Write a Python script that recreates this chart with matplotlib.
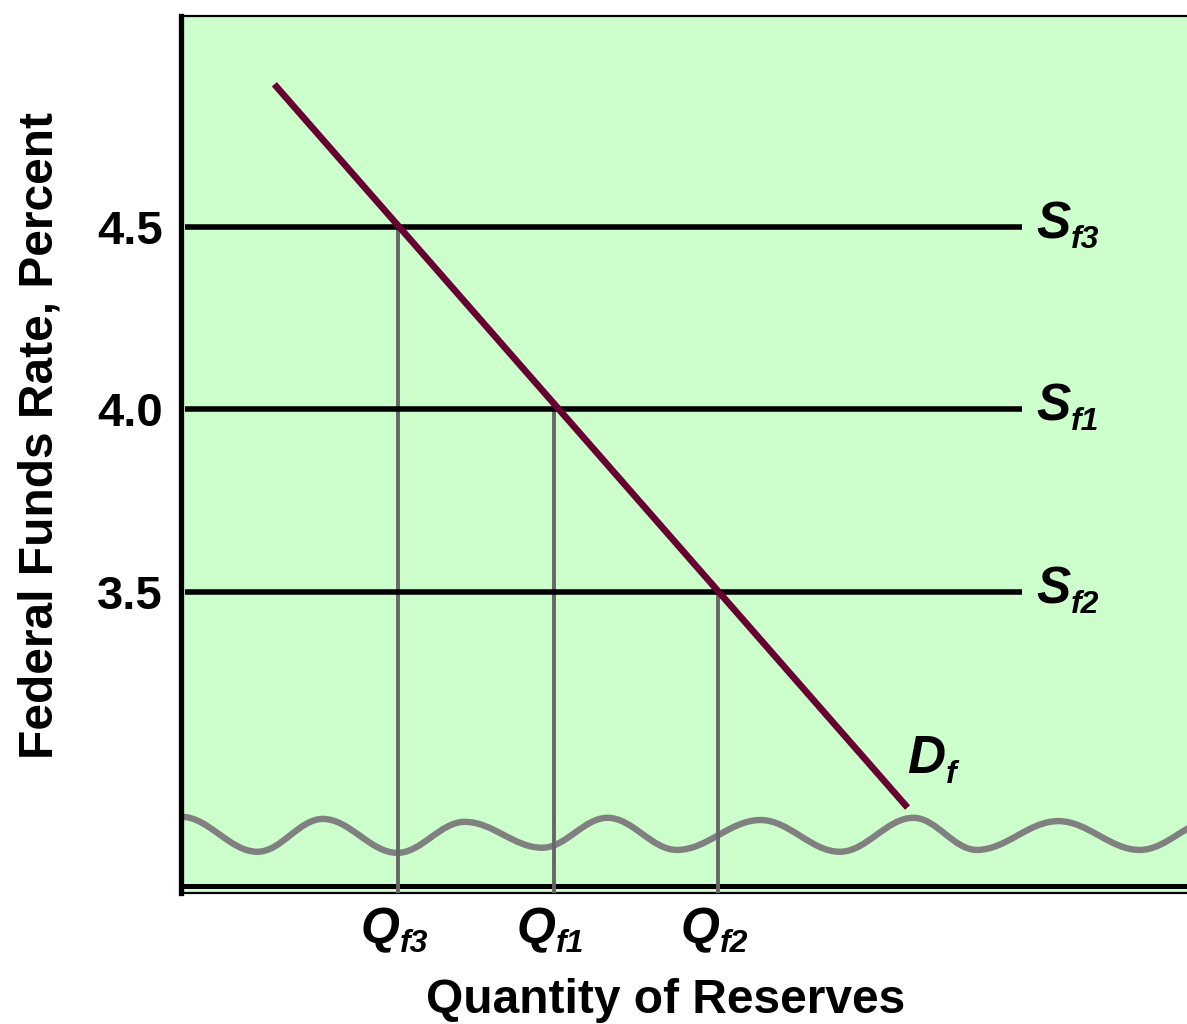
import matplotlib

matplotlib.use("Agg")

import matplotlib.pyplot as plt
from matplotlib.path import Path
from matplotlib.patches import PathPatch

plt.rcParams["font.family"] = ["Liberation Sans", "DejaVu Sans"]

# --- data -------------------------------------------------------------
rates = [4.5, 4.0, 3.5]                 # federal funds rate, percent
supply_subs = ["f3", "f1", "f2"]        # S_f labels for each rate
quantities = [21.6, 37.1, 53.4]         # Q_f3, Q_f1, Q_f2
quantity_subs = ["f3", "f1", "f2"]
supply_end = 83.6                        # supply lines run from 0 to here

demand_x = [9.5, 72.0]
demand_y = [4.884, 2.916]

# axis-break wave: alternating peaks/troughs (x, rate)
wave_x = [0.0, 7.6, 14.1, 21.5, 28.2, 35.9, 42.4, 49.3, 57.6, 65.5,
          72.8, 79.1, 87.2, 95.3, 102.8]
wave_y = [2.884, 2.788, 2.878, 2.785, 2.870, 2.799, 2.881, 2.793, 2.875,
          2.788, 2.881, 2.793, 2.872, 2.793, 2.876]

xlim = (0.0, 100.0)
ylim = (2.675, 5.078)

# --- figure -----------------------------------------------------------
W, H = 1187, 1024
fig = plt.figure(figsize=(W / 100, H / 100), dpi=100)
ax = fig.add_axes([181 / W, (H - 893) / H, 1 - 181 / W, (893 - 16) / H])
ax.set_facecolor("#CCFFCC")
ax.set_xlim(*xlim)
ax.set_ylim(*ylim)

ax.spines["right"].set_visible(False)
ax.spines["left"].set_linewidth(3.8)
ax.spines["top"].set_linewidth(1.6)
ax.spines["bottom"].set_linewidth(1.6)
# thick inner bottom rule (double line look)
ax.plot([0, 1], [0.0085, 0.0085], transform=ax.transAxes, color="black",
        lw=3.6, solid_capstyle="butt", clip_on=False)

ax.set_xticks([])
ax.set_yticks(rates)
ax.set_yticklabels([f"{r:.1f}" for r in rates], fontsize=34, fontweight="bold")
ax.tick_params(axis="y", length=0, pad=13)

# wave as smooth bezier through extrema (horizontal tangents)
verts = [(wave_x[0], wave_y[0])]
codes = [Path.MOVETO]
for i in range(1, len(wave_x)):
    x0, y0 = wave_x[i - 1], wave_y[i - 1]
    x1, y1 = wave_x[i], wave_y[i]
    dx = x1 - x0
    verts += [(x0 + 0.364 * dx, y0), (x1 - 0.364 * dx, y1), (x1, y1)]
    codes += [Path.CURVE4] * 3
ax.add_patch(PathPatch(Path(verts, codes), facecolor="none",
                       edgecolor="#808080", lw=4.6, zorder=2))

# vertical drop lines to the quantity axis
for q, r in zip(quantities, rates):
    ax.plot([q, q], [ylim[0], r], color="#666666", lw=2.8, zorder=3)

# supply lines
for r in rates:
    ax.plot([0.4, supply_end], [r, r], color="black", lw=4.0,
            solid_capstyle="butt", zorder=4)

# demand line
ax.plot(demand_x, demand_y, color="#660033", lw=4.8, zorder=5)

lab = dict(fontweight="bold", style="italic", color="black")


def sub_label(xy, main, sub, size, sub_size, offset, ha="left",
              coords="data"):
    t = ax.annotate(main, xy=xy, xycoords=coords, xytext=offset,
                    textcoords="offset points", fontsize=size, ha=ha,
                    va="baseline", annotation_clip=False, **lab)
    ax.annotate(sub, xy=(1, 0), xycoords=t, xytext=(0.0, 1.0),
                textcoords="offset points", fontsize=sub_size,
                ha="left", va="baseline", annotation_clip=False, **lab)
    return t


for r, s in zip(rates, supply_subs):
    sub_label((85.0, r), "S", s, 37, 23, (0, -8))

for q, s in zip(quantities, quantity_subs):
    sub_label((q, 0), "Q", s, 36, 23, (-13, -36), ha="center",
              coords=("data", "axes fraction"))

sub_label((72.2, 3.004), "D", "f", 38, 23, (0, 0))

ax.set_xlabel("Quantity of Reserves", fontsize=34.5, fontweight="bold")
ax.xaxis.set_label_coords(0.482, -0.097)
ax.set_ylabel("Federal Funds Rate, Percent", fontsize=34.5,
              fontweight="bold")
ax.yaxis.set_label_coords(-0.118, 0.522)

fig.savefig("out.png", dpi=100)
